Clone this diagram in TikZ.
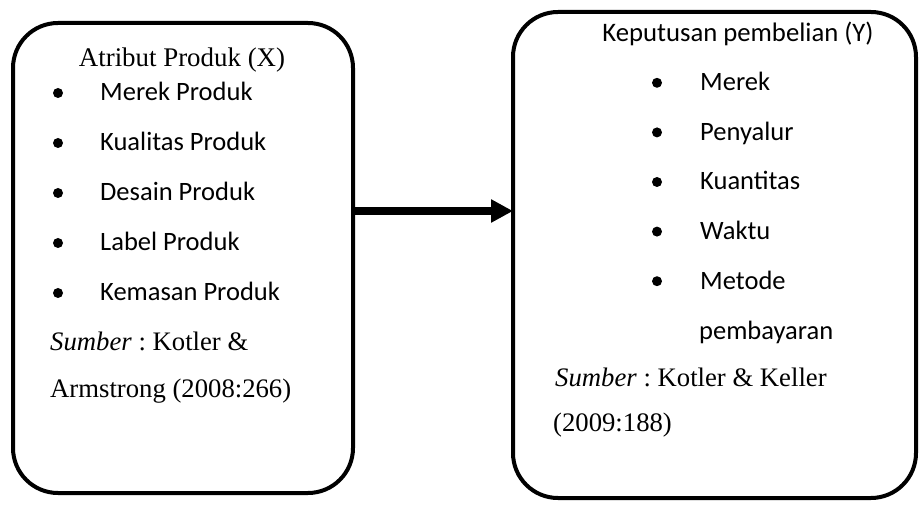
\documentclass[tikz,border=0pt]{standalone}
\usepackage{fontspec}
\setmainfont{Liberation Serif}
\newfontfamily\calibri{Carlito}
\usetikzlibrary{arrows.meta,positioning}
\frenchspacing

\begin{document}
\begin{tikzpicture}[x=1pt,y=-1pt,
	kotak/.style={draw, line width=4pt, rounded corners=45pt, inner sep=0pt},
	judul/.style={inner sep=0pt, anchor=base},
	butir/.style={inner sep=0pt, anchor=base west, font=\calibri\fontsize{26.5}{30}\selectfont},
	sumber/.style={inner sep=0pt, anchor=base west, font=\fontsize{26.7}{30}\selectfont},
	titik/.style={circle, fill, inner sep=0pt, minimum size=10pt}
]
\useasboundingbox (0,0) rectangle (919,505);
% kotak kiri dan kanan
\node[kotak, minimum width=340pt, minimum height=470pt] (atribut) at (183,258) {};
\node[kotak, minimum width=403pt, minimum height=486pt] (keputusan) at (714.5,255) {};

% isi kotak kiri
\node[judul, font=\fontsize{26.9}{30}\selectfont] (judulX) at (182,67) {Atribut Produk (X)};
\foreach \teks [count=\i] in {Merek Produk, Kualitas Produk, Desain Produk, Label Produk, Kemasan Produk}
{
	\node[butir] (x-\i) at (100,51+50*\i) {\teks};
	\node[titik] (bx-\i) at (58,43+50*\i) {};
}
\node[sumber] (sumberX) at (50,350) {\textit{Sumber} : Kotler \&};
\node[sumber] (tahunX) at (50,397) {Armstrong (2008:266)};

% isi kotak kanan
\node[judul, font=\calibri\fontsize{26.7}{30}\selectfont] (judulY) at (738,42) {Keputusan pembelian (Y)};
\foreach \teks [count=\i] in {Merek, Penyalur, Kuantitas, Waktu, Metode}
{
	\node[butir] (y-\i) at (700,41.2+49.6*\i) {\teks};
	\node[titik] (by-\i) at (657,33.2+49.6*\i) {};
}
\node[butir] (y-6) at (699,339) {pembayaran};
\node[sumber] (sumberY) at (555,386) {\textit{Sumber} : Kotler \& Keller};
\node[sumber] (tahunY) at (553,431) {(2009:188)};

% panah
\draw[line width=8pt, -{Triangle[length=22pt,width=22pt]}, shorten >=-2pt]
	([yshift=47pt]atribut.east) -- ([yshift=44pt]keputusan.west);
\end{tikzpicture}
\end{document}
